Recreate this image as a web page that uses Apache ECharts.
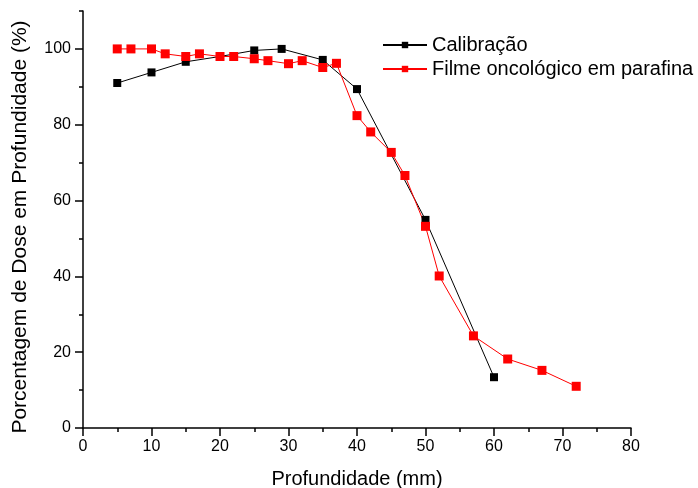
<!DOCTYPE html>
<html>
<head>
<meta charset="utf-8">
<script src="https://cdn.jsdelivr.net/npm/echarts@6/dist/echarts.min.js"></script>
<style>
  html, body { margin: 0; padding: 0; background: #fff; }
  #chart { width: 698px; height: 488px; }
</style>
</head>
<body>
<div id="chart"></div>
<script>
// depth (mm) and percent depth dose
var calibDepth = [5, 10, 15, 20, 25, 29, 35, 40, 50, 60]
var calibDose = [91.0, 93.8, 96.6, 98.0, 99.6, 100, 97.1, 89.4, 54.9, 13.4]

var filmDepth = [5, 7, 10, 12, 15, 17, 20, 22, 25, 27, 30, 32, 35, 37, 40, 42, 45, 47, 50, 52, 57, 62, 67, 72]
var filmDose = [100, 100, 100, 98.7, 98.0, 98.7, 98.0, 98.0, 97.4, 96.9, 96.1, 96.9, 95.1, 96.2,
  82.4, 78.1, 72.7, 66.6, 53.2, 40.1, 24.3, 18.2, 15.2, 11.0]

var seriesNames = ['Calibração', 'Filme oncológico em parafina']

// labelled (long) ticks
var xMajor = [0, 10, 20, 30, 40, 50, 60, 70, 80]
var yMajor = [0, 20, 40, 60, 80, 100]

function pairs(xs, ys) {
  return xs.map(function(x, i) { return [x, ys[i]] })
}

var font = 'Liberation Sans, Arial, sans-serif'
var black = '#000'
var chart = echarts.init(document.getElementById('chart'))

var labelStyle = { fontFamily: font, fontSize: 16, color: black }

var option = {
  animation: false,
  backgroundColor: '#fff',
  grid: { left: 83, right: 67, top: 11, bottom: 60, outerBoundsMode: 'none' },
  legend: {
    orient: 'vertical',
    left: 377,
    top: 30,
    itemWidth: 44,
    itemHeight: 8,
    itemGap: 4,
    data: seriesNames,
    textStyle: { fontFamily: font, fontSize: 20, color: black }
  },
  xAxis: [
    {
      type: 'value', min: 0, max: 80, interval: 5,
      name: 'Profundidade (mm)',
      nameLocation: 'middle',
      nameGap: 41,
      nameTextStyle: { fontFamily: font, fontSize: 20, color: black },
      splitLine: { show: false },
      axisLine: { lineStyle: { color: black, width: 1.5 } },
      axisTick: { inside: false, length: 4, lineStyle: { color: black, width: 1.5 } },
      axisLabel: { show: false }
    },
    {
      type: 'value', min: 0, max: 80, position: 'bottom',
      splitLine: { show: false },
      axisLine: { show: false },
      axisTick: { inside: false, length: 8, customValues: xMajor, lineStyle: { color: black, width: 1.5 } },
      axisLabel: Object.assign({ margin: 11, customValues: xMajor }, labelStyle)
    }
  ],
  yAxis: [
    {
      type: 'value', min: 0, max: 110, interval: 10,
      name: 'Porcentagem de Dose em Profundidade (%)',
      nameLocation: 'middle',
      nameGap: 52,
      // the original title sits a little below the axis centre
      nameTextStyle: { fontFamily: font, fontSize: 21, color: black, padding: [0, 15, 0, 0] },
      splitLine: { show: false },
      axisLine: { lineStyle: { color: black, width: 1.5 } },
      axisTick: { inside: false, length: 4, lineStyle: { color: black, width: 1.5 } },
      axisLabel: { show: false }
    },
    {
      type: 'value', min: 0, max: 110, position: 'left',
      splitLine: { show: false },
      axisLine: { show: false },
      axisTick: { inside: false, length: 8, customValues: yMajor, lineStyle: { color: black, width: 1.5 } },
      axisLabel: Object.assign({ margin: 12, customValues: yMajor }, labelStyle)
    }
  ],
  series: [
    {
      name: seriesNames[0],
      type: 'line',
      data: pairs(calibDepth, calibDose),
      symbol: 'rect',
      symbolSize: 8,
      showAllSymbol: true,
      color: black,
      lineStyle: { color: black, width: 1 },
      itemStyle: { color: black }
    },
    {
      name: seriesNames[1],
      type: 'line',
      data: pairs(filmDepth, filmDose),
      symbol: 'rect',
      symbolSize: 9,
      showAllSymbol: true,
      color: '#ff0000',
      lineStyle: { color: '#ff0000', width: 1 },
      itemStyle: { color: '#ff0000' }
    }
  ]
}

chart.setOption(option)
</script>
</body>
</html>
